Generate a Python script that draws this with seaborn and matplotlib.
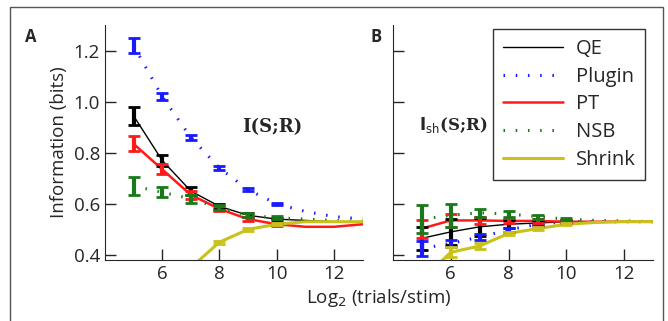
import numpy as np
import pandas as pd
import seaborn as sns
import matplotlib.pyplot as plt
from matplotlib.patches import Rectangle
from matplotlib.lines import Line2D

# log2 trials per stimulus
x = [5, 6, 7, 8, 9, 10, 11, 12, 13]

# panel A: I(S;R)
a_qe = [0.945, 0.77, 0.65, 0.59, 0.555, 0.54, 0.535, 0.53, 0.53]
a_plugin = [1.22, 1.02, 0.86, 0.74, 0.655, 0.60, 0.57, 0.55, 0.54]
a_pt = [0.835, 0.735, 0.635, 0.58, 0.54, 0.52, 0.51, 0.51, 0.52]
a_nsb = [0.67, 0.645, 0.62, 0.585, 0.555, 0.545, 0.54, 0.535, 0.53]
a_shrink = [0.05, 0.20, 0.35, 0.45, 0.50, 0.52, 0.53, 0.53, 0.53]
a_qe_err = [0.035, 0.02, 0.015, 0.01, 0.008, 0.005, 0.004, 0.003, 0.003]
a_plugin_err = [0.03, 0.015, 0.01, 0.008, 0.006, 0.004, 0.003, 0.003, 0.002]
a_pt_err = [0.03, 0.02, 0.015, 0.01, 0.008, 0.005, 0.004, 0.003, 0.003]
a_nsb_err = [0.035, 0.02, 0.015, 0.01, 0.008, 0.006, 0.004, 0.003, 0.003]
a_shrink_err = [0.02, 0.015, 0.01, 0.006, 0.005, 0.004, 0.003, 0.003, 0.002]

# panel B: I_sh(S;R)
b_qe = [0.465, 0.49, 0.51, 0.52, 0.525, 0.53, 0.53, 0.53, 0.53]
b_plugin = [0.425, 0.445, 0.47, 0.498, 0.52, 0.53, 0.53, 0.53, 0.53]
b_pt = [0.503, 0.535, 0.535, 0.533, 0.533, 0.53, 0.53, 0.53, 0.53]
b_nsb = [0.54, 0.555, 0.565, 0.56, 0.55, 0.54, 0.535, 0.533, 0.53]
b_shrink = [0.30, 0.41, 0.435, 0.484, 0.503, 0.52, 0.527, 0.53, 0.53]
b_qe_err = [0.045, 0.05, 0.035, 0.015, 0.008, 0.005, 0.004, 0.003, 0.003]
b_plugin_err = [0.03, 0.015, 0.012, 0.008, 0.006, 0.004, 0.003, 0.003, 0.002]
b_pt_err = [0.035, 0.025, 0.015, 0.01, 0.008, 0.005, 0.004, 0.003, 0.003]
b_nsb_err = [0.055, 0.045, 0.015, 0.01, 0.008, 0.005, 0.004, 0.003, 0.003]
b_shrink_err = [0.02, 0.02, 0.01, 0.006, 0.005, 0.004, 0.003, 0.003, 0.002]

methods = ["QE", "Plugin", "PT", "NSB", "Shrink"]
colors = {"QE": "black", "Plugin": "#1a1aff", "PT": "#ff1a1a",
          "NSB": "#1a7a1a", "Shrink": "#c8c21a"}
lws = {"QE": 1.0, "Plugin": 2.2, "PT": 1.8, "NSB": 2.2, "Shrink": 2.2}
dashes = {"QE": "", "Plugin": (0.5, 3.5), "PT": "", "NSB": (0.5, 3.5), "Shrink": ""}

panels = {
    "A": ([a_qe, a_plugin, a_pt, a_nsb, a_shrink],
          [a_qe_err, a_plugin_err, a_pt_err, a_nsb_err, a_shrink_err]),
    "B": ([b_qe, b_plugin, b_pt, b_nsb, b_shrink],
          [b_qe_err, b_plugin_err, b_pt_err, b_nsb_err, b_shrink_err]),
}

sns.set_style("ticks")
plt.rcParams["font.family"] = ["Open Sans", "DejaVu Sans"]

fig = plt.figure(figsize=(6.68, 3.21), dpi=100)
axA = fig.add_axes([0.157, 0.19, 0.386, 0.732])
axB = fig.add_axes([0.588, 0.19, 0.390, 0.732])

for key, ax in (("A", axA), ("B", axB)):
    vals, errs = panels[key]
    rows = []
    for m, v, e in zip(methods, vals, errs):
        for xi, vi, ei in zip(x, v, e):
            rows.append({"x": xi, "info": vi, "err": ei, "method": m})
    df = pd.DataFrame(rows)
    sns.lineplot(data=df, x="x", y="info", hue="method", style="method",
                 palette=colors, dashes=dashes, size="method", sizes=lws,
                 hue_order=methods, ax=ax, legend=False)
    # error bars only where the estimates still spread
    for m in methods:
        d = df[df.method == m]
        d = d[d.x <= 10]
        ax.errorbar(d.x, d["info"], yerr=d.err, fmt="none", ecolor=colors[m],
                    elinewidth=3, capsize=4.5, capthick=2)
    ax.set_xlim(4, 13)
    ax.set_ylim(0.38, 1.3)
    ax.set_xticks([6, 8, 10, 12])
    ax.set_yticks([0.4, 0.6, 0.8, 1.0, 1.2])
    ax.tick_params(direction="in", length=8, width=1, labelsize=13.5)
    ax.set_xlabel("")
    ax.set_ylabel("")
    sns.despine(ax=ax)

axA.set_yticklabels(["0.4", "0.6", "0.8", "1.0", "1.2"])
axB.set_yticklabels([])
axA.set_ylabel("Information (bits)", fontsize=13.5)

fig.text(0.567, 0.055, r"Log$_2$ (trials/stim)", ha="center", fontsize=13.5)
fig.text(0.038, 0.885, "A", fontsize=12, fontweight="bold", ha="left", va="center")
fig.text(0.555, 0.885, "B", fontsize=12, fontweight="bold", ha="left", va="center")
fig.text(0.407, 0.605, "I(S;R)", fontsize=13, fontweight="bold",
         family="DejaVu Serif", ha="center", va="center")
fig.text(0.678, 0.61, r"$\mathbf{I}_{\mathrm{sh}}$" + "(S;R)", fontsize=12,
         fontweight="bold", family="DejaVu Serif", ha="center", va="center")

# legend
handles = []
for m in methods:
    ls = "-" if dashes[m] == "" else (0, dashes[m])
    handles.append(Line2D([], [], color=colors[m], lw=lws[m], linestyle=ls))
leg = axB.legend(handles, methods, loc="upper right", bbox_to_anchor=(0.97, 0.983),
                 fontsize=14.5, frameon=True, fancybox=False, handlelength=3.0,
                 labelspacing=0.38, borderpad=0.5, handletextpad=0.6,
                 borderaxespad=0)
leg.get_frame().set_edgecolor("black")
leg.get_frame().set_linewidth(1)

fig.add_artist(Rectangle((10 / 668, -0.2), 653 / 668, 1.2 - 7 / 321,
                         transform=fig.transFigure, fill=False,
                         edgecolor="#555555", lw=1))

fig.savefig("out.png", dpi=100)
